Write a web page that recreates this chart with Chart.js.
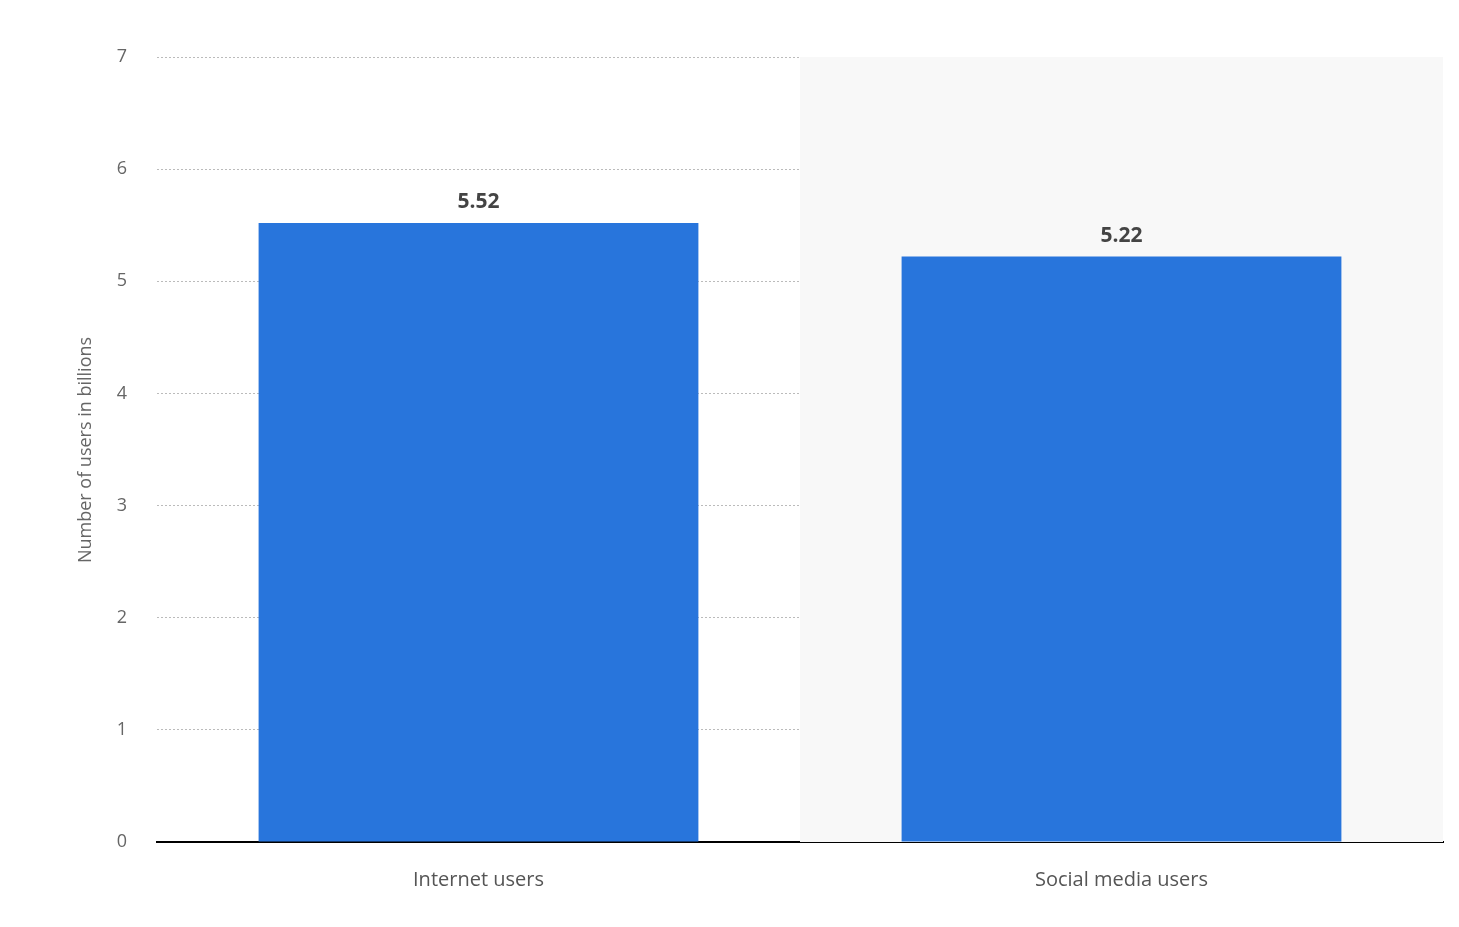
<!DOCTYPE html>
<html><head><meta charset="utf-8">
<script src="https://cdn.jsdelivr.net/npm/chart.js@4"></script>
<style>html,body{margin:0;background:#fff}#wrap{width:1459px;height:927px}</style>
</head><body><div id="wrap"><canvas id="c"></canvas></div>
<script>
const categories = ['Internet users', 'Social media users'];
const values = [5.52, 5.22];
const yTicks = [0, 1, 2, 3, 4, 5, 6, 7];

// shaded band behind the second category, labels above bars, y title
const extras = {
  id: 'extras',
  beforeDatasetsDraw(chart) {
    const { ctx, chartArea, scales } = chart;
    const x = scales.x;
    const mid = (x.getPixelForValue(0) + x.getPixelForValue(1)) / 2;
    ctx.save();
    ctx.fillStyle = '#f8f8f8';
    ctx.fillRect(mid, chartArea.top, chartArea.right - mid, chartArea.bottom - chartArea.top);
    ctx.restore();
  },
  afterDatasetsDraw(chart) {
    const { ctx } = chart;
    ctx.save();
    ctx.font = 'bold 21px "Open Sans"';
    ctx.fillStyle = '#444';
    ctx.textAlign = 'center';
    ctx.textBaseline = 'bottom';
    chart.getDatasetMeta(0).data.forEach((bar, i) => {
      ctx.fillText(values[i].toFixed(2), bar.x, bar.y - 10);
    });
    ctx.translate(86, 450);
    ctx.rotate(-Math.PI / 2);
    ctx.font = '18px "Open Sans"';
    ctx.fillStyle = '#666';
    ctx.textBaseline = 'middle';
    ctx.fillText('Number of users in billions', 0, 0);
    ctx.restore();
  }
};

new Chart(document.getElementById('c'), {
  type: 'bar',
  data: {
    labels: categories,
    datasets: [{ data: values, backgroundColor: '#2875dc', barPercentage: 0.684, categoryPercentage: 1 }]
  },
  options: {
    responsive: true,
    maintainAspectRatio: false,
    animation: false,
    layout: { padding: { left: 0, right: 16, top: 57, bottom: 0 } },
    plugins: { legend: { display: false }, tooltip: { enabled: false } },
    scales: {
      x: {
        grid: { display: false },
        border: { display: true, color: '#000', width: 2 },
        ticks: { color: '#555', font: { size: 20, family: 'Open Sans' }, padding: 18 },
        afterFit(s) { s.height = 85; }
      },
      y: {
        min: 0, max: 7,
        afterBuildTicks(s) { s.ticks = yTicks.map(v => ({ value: v })); },
        grid: { color: '#bbb', drawTicks: false },
        border: { display: false, dash: [2, 2] },
        ticks: { color: '#666', font: { size: 18, family: 'Open Sans' }, padding: 30 },
        afterFit(s) { s.width = 157; }
      }
    }
  },
  plugins: [extras]
});
</script></body></html>
